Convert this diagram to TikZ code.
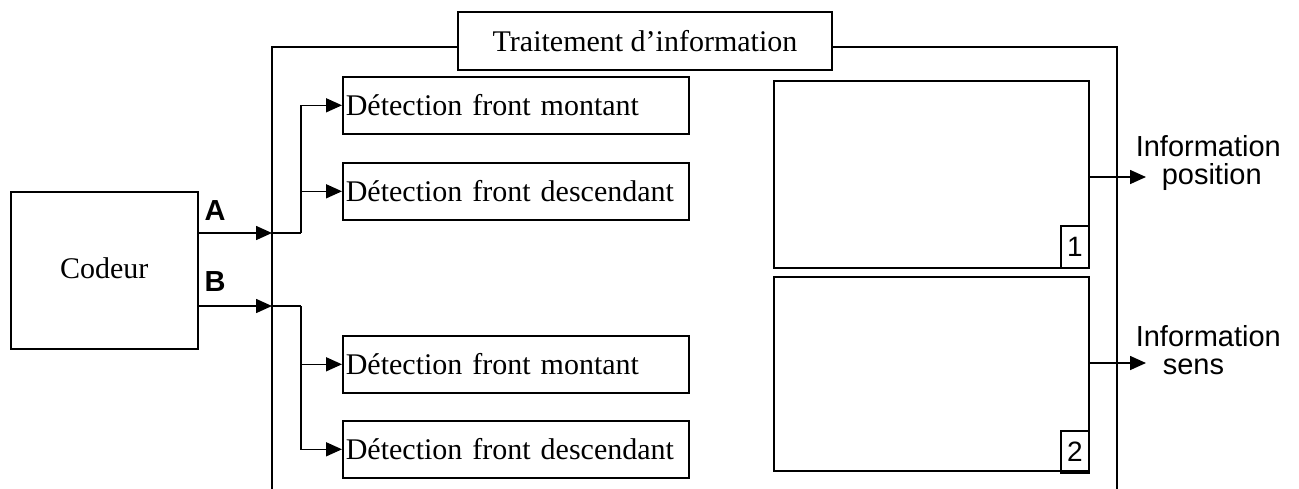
\documentclass[tikz,border=0pt]{standalone}
\usepackage{fontspec}
\setmainfont{Liberation Serif}
\newfontfamily\arialfont{Liberation Sans}
\usetikzlibrary{arrows.meta}
\begin{document}
\begin{tikzpicture}[x=1pt,y=-1pt,line width=1.6pt,
  box/.style={draw,inner sep=0pt,anchor=north west},
  detbox/.style={draw,anchor=north west,minimum width=346pt,minimum height=57pt,
     text width=340pt,inner xsep=3pt,inner ysep=0pt,align=left,font=\fontsize{30}{34}\selectfont},
  numbox/.style={draw,anchor=south east,minimum width=28pt,minimum height=42pt,inner sep=0pt,
     font=\arialfont\fontsize{28}{30}\selectfont},
  arr/.style={-{Triangle[length=16pt,width=14pt]}},
  lab/.style={font=\arialfont\bfseries\fontsize{29}{30}\selectfont},
  outlab/.style={font=\arialfont\fontsize{29}{28}\selectfont,align=left,anchor=base west,inner sep=0pt}]
\useasboundingbox (0,0) rectangle (1299,488);
% big enclosing box (open at bottom)
\draw (272,490) -- (272,47) -- (1117,47) -- (1117,490);
\node[draw,fill=white,minimum width=374pt,minimum height=58pt,inner sep=0pt,
  font=\fontsize{30}{34}\selectfont] (title) at (645,41) {Traitement d'information};
% codeur
\node[draw,minimum width=187pt,minimum height=157pt,inner sep=0pt,anchor=north west,
  font=\fontsize{30}{34}\selectfont] (codeur) at (10,191) {\raisebox{5pt}{Codeur}};
% detection boxes
\node[detbox] (d1) at (342,76) {Détection front montant};
\node[detbox] (d2) at (342,162) {Détection front descendant};
\node[detbox] (d3) at (342,335) {Détection front montant};
\node[detbox] (d4) at (342,420) {Détection front descendant};
% right boxes
\node[box,minimum width=315pt,minimum height=187pt] (r1) at (773,80) {};
\node[box,minimum width=315pt,minimum height=194pt] (r2) at (773,276) {};
\node[numbox] (n1) at (r1.south east) {1};
\node[numbox] (n2) at ([yshift=-2pt]r2.south east) {2};
% coordinates
\coordinate (ja) at (301,233);
\coordinate (jb) at (301,306);
\coordinate (ea) at (272,233);
\coordinate (eb) at (272,306);
% A and B
\draw[arr] (codeur.east |- ea) -- (ea);
\draw (ea) -- (ja);
\draw[arr] (codeur.east |- eb) -- (eb);
\draw (eb) -- (jb);
\node[lab,anchor=south] (la) at (215,225) {A};
\node[lab,anchor=south] (lb) at (215,296) {B};
% branches
\draw[arr] (ja) -- (ja |- d1.west) -- (d1.west);
\draw[arr] (ja |- d2.west) -- (d2.west);
\draw[arr] (jb) -- (jb |- d4.west) -- (d4.west);
\draw[arr] (jb |- d3.west) -- (d3.west);
% outputs
\coordinate (oa) at (1146,177);
\coordinate (ob) at (1146,363);
\draw[arr] (r1.east |- oa) -- (oa);
\draw[arr] (r2.east |- ob) -- (ob);
\node[outlab] (t1) at (1135,184) {Information\\\hspace*{26pt}position};
\node[outlab] (t2) at (1135,374) {Information\\\hspace*{27pt}sens};
\end{tikzpicture}
\end{document}
